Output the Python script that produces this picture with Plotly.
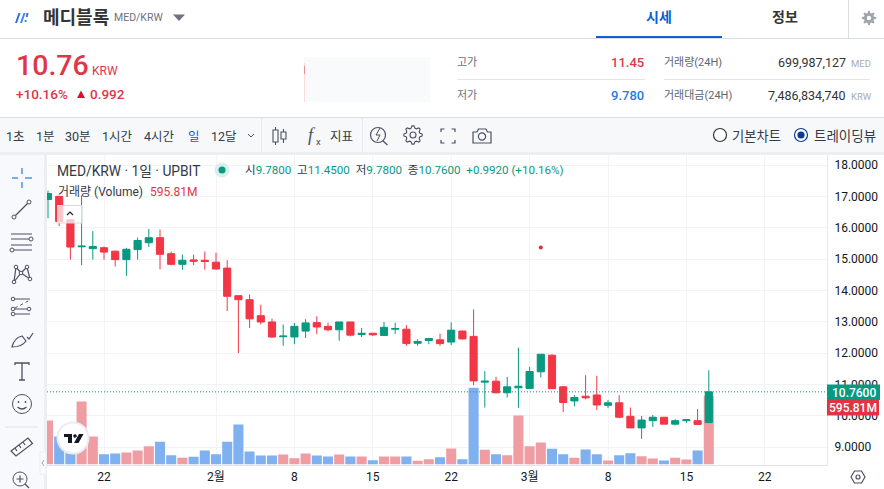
import math
import pandas as pd
import plotly.graph_objects as go

# ---------- data ----------
dates = pd.date_range("2023-01-17", "2023-03-17", freq="D")
opens = [16.90,17.00,16.25,15.39,15.33,15.36,15.25,14.98,15.30,15.52,15.68,15.17,14.83,14.97,14.96,
         14.90,14.71,13.83,13.70,13.19,12.99,12.52,12.51,12.70,12.97,12.85,12.74,12.99,12.59,12.63,
         12.56,12.76,12.76,12.31,12.40,12.42,12.35,12.70,12.53,11.07,11.10,10.73,10.89,
         10.87,11.40,11.93,10.92,10.47,10.62,10.66,10.33,10.41,9.98,9.61,9.84,9.95,9.73,9.84,9.84,9.78]
highs = [17.18,17.00,16.25,17.03,15.89,15.40,15.27,15.36,15.68,15.96,15.94,15.24,15.14,15.14,15.24,
         15.20,14.96,13.83,13.87,13.54,13.10,12.91,12.96,13.08,13.17,12.97,12.99,12.99,12.80,12.64,
         12.99,12.97,12.89,12.44,12.46,12.62,12.98,12.72,13.39,11.42,11.24,11.24,12.17,
         11.56,11.96,11.96,10.94,10.66,11.29,11.27,10.50,10.66,10.26,9.99,10.02,9.95,9.89,9.89,10.21,11.45]
lows = [16.30,16.05,14.98,14.80,14.98,14.98,14.76,14.46,14.98,15.38,14.67,14.80,14.66,14.80,14.66,
        14.66,13.34,12.00,12.80,12.91,12.48,12.23,12.28,12.48,12.60,12.69,12.39,12.53,12.51,12.54,
        12.54,12.61,12.23,12.23,12.28,12.23,12.25,12.43,10.97,10.26,10.71,10.58,10.25,
        10.87,11.22,10.86,10.12,10.30,10.52,10.18,10.24,9.92,9.61,9.26,9.64,9.73,9.69,9.77,9.72,9.78]
closes = [17.09,16.20,15.38,15.41,15.40,15.22,14.98,15.31,15.59,15.68,15.15,14.83,14.96,14.93,14.92,
          14.68,13.81,13.70,13.09,12.99,12.51,12.54,12.85,12.96,12.83,12.74,12.99,12.57,12.63,12.58,
          12.82,12.78,12.30,12.37,12.46,12.30,12.73,12.45,11.11,11.10,10.73,10.92,10.94,
          11.41,11.96,10.86,10.42,10.58,10.57,10.34,10.41,9.95,9.61,9.86,9.95,9.73,9.84,9.87,9.72,10.76]
volumes_m = [381,243,173,546,243,89,95,104,121,159,197,81,58,67,121,
             89,197,347,113,78,78,87,55,95,78,69,87,69,69,37,
             69,69,69,32,46,63,139,46,665,127,89,81,425,
             159,191,136,89,58,130,89,35,81,98,72,52,35,58,43,121,595.81]
price_ticks = [9, 10, 11, 12, 13, 14, 15, 16, 17, 18]
time_tick_dates = ["2023-01-22","2023-02-01","2023-02-08","2023-02-15","2023-02-22",
                   "2023-03-01","2023-03-08","2023-03-15","2023-03-22"]
time_tick_text = ["22","2월","8","15","22","3월","8","15","22"]
stray_date = ["2023-03-02"]
stray_price = [15.37]
last_price = 10.76

# ---------- styles ----------
FONT = "Roboto, 'Noto Sans CJK KR', sans-serif"
GREEN, RED = "#089981", "#F23645"
VOL_UP, VOL_DOWN = "#EF9DA3", "#7FB0F0"
GRID = "#F1F3F7"
DARK, ICON = "#333A45", "#4A5160"
W, H = 884, 489
shapes, notes = [], []

def T(x, y, s, size=12, color=DARK, anchor="left", weight=400, family=FONT):
    notes.append(dict(x=x, y=y, xref="x3", yref="y3", text=s, showarrow=False, xanchor=anchor,
                      yanchor="middle", borderpad=0, font=dict(size=size, color=color, family=family, weight=weight)))

def R(x0, y0, x1, y1, fill=None, line=None, lw=1):
    shapes.append(dict(type="rect", xref="x3", yref="y3", x0=x0, y0=y0, x1=x1, y1=y1, layer="above",
                       fillcolor=fill or "rgba(0,0,0,0)", line=dict(color=line or "rgba(0,0,0,0)", width=lw if line else 0)))

def C(cx, cy, r, fill=None, line=None, lw=1):
    shapes.append(dict(type="circle", xref="x3", yref="y3", x0=cx-r, y0=cy-r, x1=cx+r, y1=cy+r, layer="above",
                       fillcolor=fill or "rgba(0,0,0,0)", line=dict(color=line or "rgba(0,0,0,0)", width=lw if line else 0)))

def P(path, line=ICON, lw=1.2, fill=None, dash=None):
    shapes.append(dict(type="path", xref="x3", yref="y3", path=path, layer="above",
                       fillcolor=fill or "rgba(0,0,0,0)",
                       line=dict(color=line or "rgba(0,0,0,0)", width=lw if line else 0, dash=dash or "solid")))

def gear(cx, cy, r0, r1, teeth=8):
    pts = []
    for i in range(teeth * 4):
        a = 2 * math.pi * (i - .5) / (teeth * 4)
        r = r1 if i % 4 in (0, 1) else r0
        pts.append(f"{cx + r * math.cos(a):.2f} {cy + r * math.sin(a):.2f}")
    return "M " + " L ".join(pts) + " Z"

# ---------- page chrome ----------
R(0, 117, W, 152, "#F7F8FA")
R(0, 152, W, 155, "#ECEEF2")
R(0, 155, 44, H, "#F8F9FD")
R(44, 155, 47, H, "#ECEEF2")
for y in (38.5, 117.5):
    P(f"M 0 {y} L {W} {y}", "#DADDE2", 1)
P("M 848.5 0 L 848.5 38", "#DADDE2", 1)
P("M 261.5 118 L 261.5 152", "#E8EAEE", 1)
P("M 362.5 118 L 362.5 152", "#E8EAEE", 1)

# header
P("M 15 23 L 18.5 13 L 20.5 13 L 17 23 Z", None, 0, "#2A6FE0")
P("M 20 23 L 23.5 13 L 25.5 13 L 22 23 Z", None, 0, "#3F86EE")
P("M 26.5 13 L 28.5 13 L 27.6 17 L 25.8 17 Z", None, 0, "#2A6FE0")
C(25.6, 21, 1.1, "#2A6FE0")
T(42, 17, "메디블록", 18, "#333333", weight=700)
T(113, 17.5, "MED/KRW", 10.5, "#6B7280")
P("M 173 14.5 L 185 14.5 L 179 21 Z", None, 0, "#6B7280")
T(659, 17, "시세", 14, "#0A5FD6", "center", 700)
T(785, 17, "정보", 14, "#333333", "center", 700)
R(596, 36, 722, 38, "#0A62D6")
P(gear(869, 18, 5, 7.2), None, 0, "#A0A4AB")
C(869, 18, 2.2, "#FFFFFF")

# price block
T(15, 65, "10.76", 28.5, "#E0364A", weight=500)
T(91, 71, "KRW", 12, "#E0364A")
T(15, 94, "+10.16%", 13.5, "#E0364A", weight=500)
P("M 77 98 L 85 98 L 81 90.5 Z", None, 0, "#D7132B")
T(89, 94, "0.992", 13.5, "#E0364A", weight=500)
R(304, 57, 430, 102, "#F9FAFB")
P("M 304.5 63 L 304.5 102", "#FBDADA", 1)
P("M 304.5 66 L 304.5 74", "#EE8E96", 1)

# stats
T(456, 62, "고가", 11, "#6B7280")
T(456, 95, "저가", 11, "#6B7280")
T(645, 62, "11.45", 13, "#E0364A", "right", 500)
T(645, 95, "9.780", 13, "#2A7AE2", "right", 500)
T(663, 62, "거래량(24H)", 11, "#5F6670")
T(663, 95, "거래대금(24H)", 11, "#5F6670")
T(847, 62, "699,987,127", 12.5, "#333333", "right")
T(847, 95, "7,486,834,740", 12.5, "#333333", "right")
T(850, 63, "MED", 9.5, "#A8ACB3")
T(850, 96, "KRW", 9.5, "#A8ACB3")
P("M 457 79.5 L 645 79.5", "#E3E5E8", 1)
P("M 664 79.5 L 870 79.5", "#E3E5E8", 1)

# toolbar
for x, s, c in [(5, "1초", DARK), (35, "1분", DARK), (64, "30분", DARK), (101, "1시간", DARK),
                (143, "4시간", DARK), (187, "일", "#0A5FD6"), (210, "12달", DARK)]:
    T(x, 136, s, 12.5, c)
P("M 248 134 L 251 137 L 254 134", ICON, 1)
P("M 273 130 H 278 V 142 H 273 Z M 275.5 127 V 130 M 275.5 142 V 145", ICON, 1.1)
P("M 281 132 H 286 V 139 H 281 Z M 283.5 129 V 132 M 283.5 139 V 143", ICON, 1.1)
T(307, 135, "<i>f</i>", 18, ICON, family="'Liberation Serif', serif")
T(315, 141, "x", 9.5, ICON)
T(329, 136, "지표", 12.5)
C(378, 135, 7.5, None, ICON, 1.2)
P("M 383 141 L 387.5 145", ICON, 1.3)
P("M 380 128 L 376 135 L 380 135 L 377 141", ICON, 1)
P(gear(413, 135, 7, 9.2), ICON, 1.1)
C(413, 135, 3, None, ICON, 1.1)
P("M 441 132 V 129 H 444.5 M 451.5 129 H 455 V 132 M 455 140 V 143 H 451.5 M 444.5 143 H 441 V 140", ICON, 1.2)
P("M 473 132 H 477 L 478.5 129 H 486 L 487.5 132 H 491 V 143 H 473 Z", ICON, 1.2)
C(482, 136.5, 3.6, None, ICON, 1.2)
C(720, 135, 6.5, "#FFFFFF", "#333333", 1.2)
T(730.5, 136, "기본차트", 13.3)
C(801, 135, 6.5, "#FFFFFF", "#0A3D91", 1.2)
C(801, 135, 3.6, "#0A3D91")
T(812.5, 136, "트레이딩뷰", 13.5)

# left drawing tools
for d in ("M 12 178 H 18", "M 25 178 H 32", "M 22 168 V 174", "M 22 182 V 188"):
    P(d, "#6AA5EC", 1.8)
C(14, 217, 2, None, ICON); C(29, 202, 2, None, ICON)
P("M 15.5 215.5 L 27.5 203.5", ICON)
P("M 11 234 H 32 M 11 239 H 29 M 11 245 H 32 M 14 250 H 32", ICON)
C(31, 239, 2, None, ICON); C(12, 250, 2, None, ICON)
P("M 16 267 L 14 282 L 21 273 L 27 267 L 30 279 L 21 273 L 16 267", ICON)
for c in [(16, 267), (27, 267), (21, 273), (14, 282), (30, 279)]:
    C(c[0], c[1], 1.8, "#F8F9FD", ICON)
P("M 15 299 H 30 M 15 309 H 27 M 15 314 H 30", ICON)
P("M 15 308 L 30 300", ICON, 1, dash="dot")
for c in [(13, 299), (13, 309), (29, 309), (13, 314)]:
    C(c[0], c[1], 1.8, "#F8F9FD", ICON)
P("M 12 347 Q 14 338 22 336 L 26 341 Q 22 347 12 347 Z M 27 337 L 29 339 L 33 333", ICON)
P("M 15 365 V 363 H 29 V 365 M 22 363 V 380 M 19 380 H 25", ICON, 1.3)
C(22, 404, 9.5, None, ICON)
C(18.5, 402, .9, ICON); C(25.5, 402, .9, ICON)
P("M 17.5 407 Q 22 411 26.5 407", ICON)
P("M 5 427 H 38", "#E0E3EB", 1)
P("M 11 451 L 28 438 L 32.5 443.5 L 16 456 Z M 15 448 L 17 451 M 19 445 L 21 448 M 23 442 L 25 445", ICON)
C(20, 479, 7, None, ICON)
P("M 20 475.5 V 482.5 M 16.5 479 H 23.5 M 25 484 L 29 488", ICON)

# chart overlays
T(56, 171, "MED/KRW · 1일 · UPBIT", 13.8)
C(222, 170, 7.5, "#D8EFEB")
C(222, 170, 3.5, GREEN)
g = f"<span style='color:{GREEN}'>"
T(244, 170, f"시{g}9.7800</span>  고{g}11.4500</span>  저{g}9.7800</span>  종{g}10.7600</span> {g} +0.9920 (+10.16%)</span>", 11.6)
T(57, 192, "거래량 (Volume)", 12)
T(149, 192, "595.81M", 12, "#E0364A")
shapes.append(dict(type="rect", xref="x3", yref="y3", x0=57.5, y0=205.5, x1=82, y1=223, layer="above",
                   fillcolor="rgba(255,255,255,.72)", line=dict(color="#D6D9E0", width=1)))
P("M 67 215 L 70 212 L 73 215", "#222222", 1.2)
C(73, 438, 15.5, "#FFFFFF", "#E9ECF2", 2)
R(64, 434, 72, 437, "#131722"); R(68, 437, 72, 443, "#131722")
C(75, 436, 1.8, "#131722")
P("M 79 434 H 83.5 L 78.5 443 H 74 Z", None, 0, "#131722")
R(40, 452, 46, 474, "#FBFBFD", "#ECEEF2", 1)
P("M 44 460 L 42 463 L 44 466", "#A0A4AB", 1)

# right axis tags
R(827, 384.5, 880, 400, GREEN)
T(853.5, 392.5, "10.7600", 12, "#FFFFFF", "center", 500)
R(827, 400, 879, 415.5, "#E03445")
T(853, 408, "595.81M", 12, "#FFFFFF", "center", 500)
P("M 851 477 L 854.5 471 H 861.5 L 865 477 L 861.5 483 H 854.5 Z", ICON, 1.2)
C(858, 477, 2, None, ICON, 1.2)

# dotted last price line, tied to the price axis
shapes.append(dict(type="line", xref="x3", yref="y2", x0=47, x1=827, y0=last_price, y1=last_price, layer="above",
                   line=dict(color=GREEN, width=1, dash="1px,2px")))

# ---------- figure ----------
vol_colors = [VOL_UP if c >= o else VOL_DOWN for o, c in zip(opens, closes)]
fig = go.Figure()
fig.add_bar(x=dates, y=volumes_m, width=0.9 * 86400000, marker=dict(color=vol_colors, line=dict(width=0)),
            xaxis="x", yaxis="y", showlegend=False)
fig.add_candlestick(x=dates, open=opens, high=highs, low=lows, close=closes, xaxis="x", yaxis="y2",
                    whiskerwidth=0, showlegend=False,
                    increasing=dict(line=dict(color=GREEN, width=1), fillcolor=GREEN),
                    decreasing=dict(line=dict(color=RED, width=1), fillcolor=RED))
fig.add_scatter(x=stray_date, y=stray_price, mode="markers", xaxis="x", yaxis="y2", showlegend=False,
                marker=dict(color="#E0283C", size=4))
fig.add_scatter(x=[0], y=[0], mode="markers", marker=dict(opacity=0), xaxis="x3", yaxis="y3", showlegend=False)

PLOT_L, PLOT_R, PLOT_T, PLOT_B = 47, 827, 155, 464.5
px_per_day = 11.2
x_start = pd.Timestamp("2023-01-22") - pd.Timedelta(days=(104 - PLOT_L) / px_per_day)
x_end = pd.Timestamp("2023-01-22") + pd.Timedelta(days=(PLOT_R - 104) / px_per_day)
px_per_unit = (447 - 165) / 9
p_low = 9 - (PLOT_B - 447) / px_per_unit
p_high = 9 + (447 - PLOT_T) / px_per_unit
vol_max = (PLOT_B - PLOT_T) * 595.81 / 68.7

fig.update_layout(
    width=W, height=H, margin=dict(l=0, r=0, t=0, b=0), autosize=False,
    paper_bgcolor="#FFFFFF", plot_bgcolor="rgba(0,0,0,0)", hovermode=False, font=dict(family=FONT),
    boxgap=0.2, boxgroupgap=0.2,
    xaxis=dict(domain=[PLOT_L / W, PLOT_R / W], range=[x_start.isoformat(), x_end.isoformat()], type="date", anchor="y",
               tickmode="array", tickvals=time_tick_dates, ticktext=time_tick_text, showgrid=True, gridcolor=GRID,
               rangeslider=dict(visible=False), showline=True, linecolor="#DFE2E8", ticks="outside", ticklen=1,
               tickcolor="rgba(0,0,0,0)", tickfont=dict(size=12, color="#131722", family=FONT), zeroline=False),
    yaxis=dict(domain=[1 - PLOT_B / H, 1 - PLOT_T / H], range=[0, vol_max], visible=False, anchor="x"),
    yaxis2=dict(domain=[1 - PLOT_B / H, 1 - PLOT_T / H], range=[p_low, p_high], overlaying="y", side="right",
                anchor="x", tickmode="array", tickvals=price_ticks, tickformat=".4f", showgrid=True, gridcolor=GRID,
                zeroline=False, showline=True, linecolor="#E6E8EC", ticks="outside", ticklen=4,
                tickcolor="rgba(0,0,0,0)", tickfont=dict(size=12, color="#131722", family=FONT)),
    xaxis3=dict(domain=[0, 1], range=[0, W], visible=False, anchor="y3", fixedrange=True),
    yaxis3=dict(domain=[0, 1], range=[H, 0], visible=False, anchor="x3", fixedrange=True),
    shapes=shapes, annotations=notes,
)
fig.write_html("out.html", config=dict(displayModeBar=False),
               post_script="document.body.style.margin='0';document.documentElement.style.overflow='hidden';")
